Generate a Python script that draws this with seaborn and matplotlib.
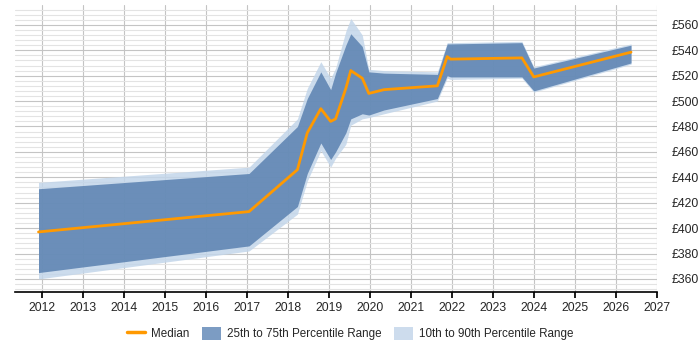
import numpy as np
import pandas as pd
import matplotlib
matplotlib.use('Agg')
import matplotlib.pyplot as plt
import seaborn as sns
from matplotlib.lines import Line2D
from matplotlib.patches import Patch
from matplotlib.ticker import MultipleLocator, FuncFormatter

# values (year as decimal, salary in GBP)
years = [2011.92, 2017.05, 2018.23, 2018.47, 2018.80, 2019.04, 2019.16, 2019.41, 2019.53,
         2019.81, 2019.97, 2020.34, 2021.64, 2021.88, 2021.96, 2023.70, 2023.99, 2026.36]
median = [397, 413, 446, 475, 494, 484, 486, 510, 524,
          518, 506, 509, 512, 535, 533, 534, 519, 538.5]
p75 = [431, 443, 480, 502, 523, 509, 522, 544, 553,
       543, 523, 522, 521, 545, 545, 546, 526, 544]
p90 = [436, 448, 486, 510, 531, 518, 526, 555, 565,
       552, 525, 524, 523, 546, 546, 547, 527, 545]
p25 = [365, 386, 417, 443, 467, 454, 460, 475, 486,
       490, 489, 493, 502, 520, 519, 519, 508, 530]
p10 = [360, 382, 411, 437, 461, 448, 455, 466, 481,
       486, 487, 490, 500, 518, 517, 518, 507, 529]

year_ticks = list(range(2012, 2028))

df = pd.DataFrame({'year': years, 'median': median,
                   'p10': p10, 'p25': p25, 'p75': p75, 'p90': p90})

sns.set_theme(style='white')
plt.rcParams['font.family'] = ['Liberation Sans', 'DejaVu Sans']

LIGHT = '#c3d6ea'
DARK = '#5a81b0'
ORANGE = '#ff9900'

fig = plt.figure(figsize=(7, 3.5), dpi=100)
ax = fig.add_axes([0.021, 0.166, 0.918, 0.82])

ax.fill_between(df['year'], df['p10'], df['p90'], color=LIGHT, alpha=0.85, lw=0, zorder=2)
ax.fill_between(df['year'], df['p25'], df['p75'], color=DARK, alpha=0.85, lw=0, zorder=3)
sns.lineplot(data=df, x='year', y='median', color=ORANGE, lw=2, ax=ax, zorder=4)

ax.set_xlim(2011.34, 2027.0)
ax.set_ylim(349.8, 575.7)
ax.set_xticks(year_ticks)
ax.set_xticklabels([str(y) for y in year_ticks])
ax.yaxis.set_major_locator(MultipleLocator(20))
ax.yaxis.set_minor_locator(MultipleLocator(4))
ax.set_yticks([v for v in range(360, 561, 20)])
ax.yaxis.set_major_formatter(FuncFormatter(lambda v, _: f'£{int(v)}'))
ax.yaxis.tick_right()

ax.grid(True, which='major', axis='both', color='#c4c4c4', lw=0.8, zorder=0)
ax.grid(True, which='minor', axis='y', color='#e3e3e3', lw=0.8, zorder=0)
ax.set_axisbelow(True)

for side in ['left', 'right', 'top']:
    ax.spines[side].set_visible(False)
ax.spines['bottom'].set_color('black')
ax.spines['bottom'].set_linewidth(1.2)

ax.tick_params(axis='x', which='major', bottom=True, length=4, color='black',
               labelsize=8.8, pad=3)
ax.tick_params(axis='y', which='both', right=False, left=False, labelsize=8.8, pad=4)
ax.set_xlabel('')
ax.set_ylabel('')

handles = [Line2D([0], [0], color=ORANGE, lw=2.5),
           Patch(facecolor='#7c9cc3', edgecolor='none'),
           Patch(facecolor='#cddced', edgecolor='none')]
labels = ['Median', '25th to 75th Percentile Range', '10th to 90th Percentile Range']
fig.legend(handles, labels, loc='center', bbox_to_anchor=(0.5, 0.047), ncol=3,
           frameon=False, fontsize=8.4, handlelength=1.6, handleheight=1.3,
           columnspacing=1.1, handletextpad=0.5)

fig.savefig('out.png', dpi=100, facecolor='white')
